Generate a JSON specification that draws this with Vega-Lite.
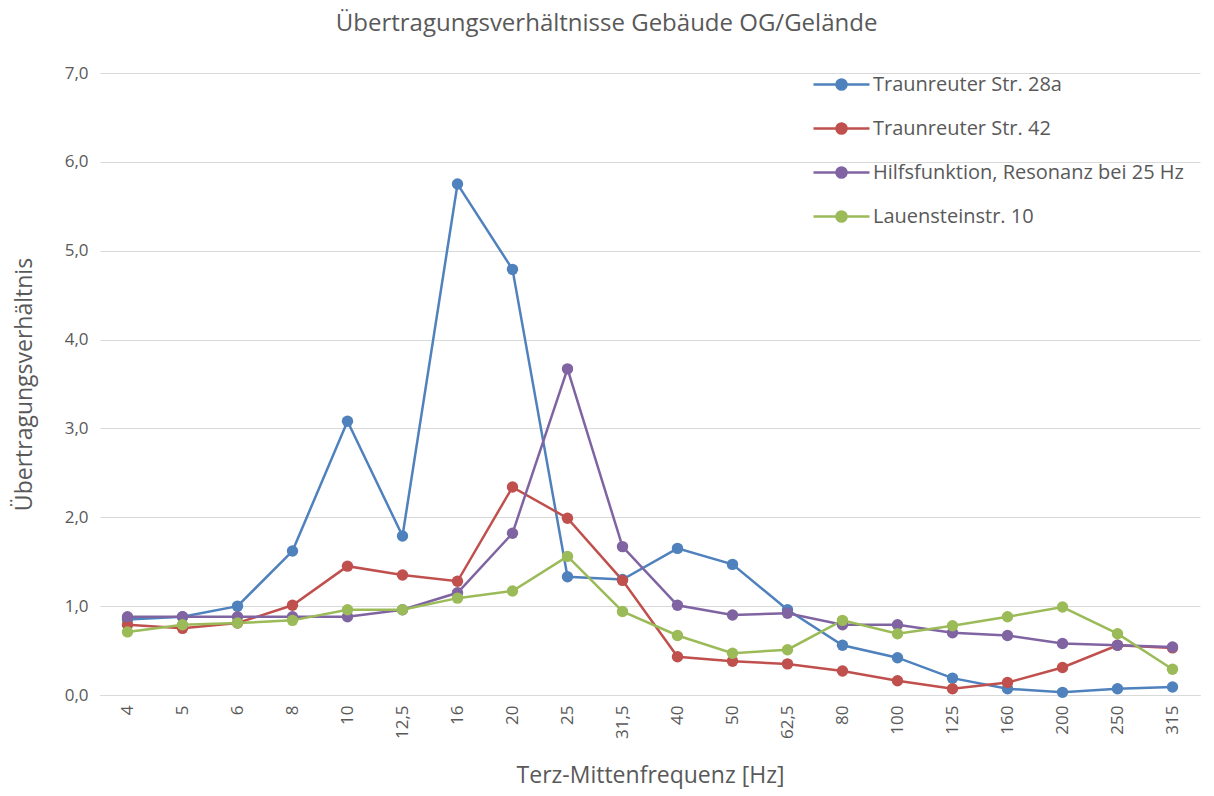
{
  "$schema": "https://vega.github.io/schema/vega-lite/v6.json",
  "width": 1100,
  "height": 622,
  "autosize": {"type": "none"},
  "padding": {"left": 100, "top": 73, "right": 14, "bottom": 101},
  "background": "white",
  "title": {
    "text": "Übertragungsverhältnisse Gebäude OG/Gelände",
    "font": "Open Sans",
    "fontSize": 24,
    "fontWeight": "normal",
    "color": "#595959",
    "anchor": "middle",
    "frame": "bounds",
    "offset": 28
  },
  "config": {
    "locale": {"number": {"decimal": ",", "thousands": ".", "grouping": [3], "currency": ["", " €"]}},
    "view": {"stroke": null},
    "font": "Open Sans"
  },
  "data": {
    "values": [
      {"f": "4", "s": "Traunreuter Str. 28a", "v": 0.85},
      {"f": "5", "s": "Traunreuter Str. 28a", "v": 0.88},
      {"f": "6", "s": "Traunreuter Str. 28a", "v": 1.0},
      {"f": "8", "s": "Traunreuter Str. 28a", "v": 1.62},
      {"f": "10", "s": "Traunreuter Str. 28a", "v": 3.08},
      {"f": "12,5", "s": "Traunreuter Str. 28a", "v": 1.79},
      {"f": "16", "s": "Traunreuter Str. 28a", "v": 5.75},
      {"f": "20", "s": "Traunreuter Str. 28a", "v": 4.79},
      {"f": "25", "s": "Traunreuter Str. 28a", "v": 1.33},
      {"f": "31,5", "s": "Traunreuter Str. 28a", "v": 1.30},
      {"f": "40", "s": "Traunreuter Str. 28a", "v": 1.65},
      {"f": "50", "s": "Traunreuter Str. 28a", "v": 1.47},
      {"f": "62,5", "s": "Traunreuter Str. 28a", "v": 0.96},
      {"f": "80", "s": "Traunreuter Str. 28a", "v": 0.56},
      {"f": "100", "s": "Traunreuter Str. 28a", "v": 0.42},
      {"f": "125", "s": "Traunreuter Str. 28a", "v": 0.19},
      {"f": "160", "s": "Traunreuter Str. 28a", "v": 0.07},
      {"f": "200", "s": "Traunreuter Str. 28a", "v": 0.03},
      {"f": "250", "s": "Traunreuter Str. 28a", "v": 0.07},
      {"f": "315", "s": "Traunreuter Str. 28a", "v": 0.09},

      {"f": "4", "s": "Traunreuter Str. 42", "v": 0.79},
      {"f": "5", "s": "Traunreuter Str. 42", "v": 0.75},
      {"f": "6", "s": "Traunreuter Str. 42", "v": 0.81},
      {"f": "8", "s": "Traunreuter Str. 42", "v": 1.01},
      {"f": "10", "s": "Traunreuter Str. 42", "v": 1.45},
      {"f": "12,5", "s": "Traunreuter Str. 42", "v": 1.35},
      {"f": "16", "s": "Traunreuter Str. 42", "v": 1.28},
      {"f": "20", "s": "Traunreuter Str. 42", "v": 2.34},
      {"f": "25", "s": "Traunreuter Str. 42", "v": 1.99},
      {"f": "31,5", "s": "Traunreuter Str. 42", "v": 1.29},
      {"f": "40", "s": "Traunreuter Str. 42", "v": 0.43},
      {"f": "50", "s": "Traunreuter Str. 42", "v": 0.38},
      {"f": "62,5", "s": "Traunreuter Str. 42", "v": 0.35},
      {"f": "80", "s": "Traunreuter Str. 42", "v": 0.27},
      {"f": "100", "s": "Traunreuter Str. 42", "v": 0.16},
      {"f": "125", "s": "Traunreuter Str. 42", "v": 0.07},
      {"f": "160", "s": "Traunreuter Str. 42", "v": 0.14},
      {"f": "200", "s": "Traunreuter Str. 42", "v": 0.31},
      {"f": "250", "s": "Traunreuter Str. 42", "v": 0.56},
      {"f": "315", "s": "Traunreuter Str. 42", "v": 0.53},

      {"f": "4", "s": "Hilfsfunktion, Resonanz bei 25 Hz", "v": 0.88},
      {"f": "5", "s": "Hilfsfunktion, Resonanz bei 25 Hz", "v": 0.88},
      {"f": "6", "s": "Hilfsfunktion, Resonanz bei 25 Hz", "v": 0.88},
      {"f": "8", "s": "Hilfsfunktion, Resonanz bei 25 Hz", "v": 0.88},
      {"f": "10", "s": "Hilfsfunktion, Resonanz bei 25 Hz", "v": 0.88},
      {"f": "12,5", "s": "Hilfsfunktion, Resonanz bei 25 Hz", "v": 0.96},
      {"f": "16", "s": "Hilfsfunktion, Resonanz bei 25 Hz", "v": 1.15},
      {"f": "20", "s": "Hilfsfunktion, Resonanz bei 25 Hz", "v": 1.82},
      {"f": "25", "s": "Hilfsfunktion, Resonanz bei 25 Hz", "v": 3.67},
      {"f": "31,5", "s": "Hilfsfunktion, Resonanz bei 25 Hz", "v": 1.67},
      {"f": "40", "s": "Hilfsfunktion, Resonanz bei 25 Hz", "v": 1.01},
      {"f": "50", "s": "Hilfsfunktion, Resonanz bei 25 Hz", "v": 0.90},
      {"f": "62,5", "s": "Hilfsfunktion, Resonanz bei 25 Hz", "v": 0.92},
      {"f": "80", "s": "Hilfsfunktion, Resonanz bei 25 Hz", "v": 0.79},
      {"f": "100", "s": "Hilfsfunktion, Resonanz bei 25 Hz", "v": 0.79},
      {"f": "125", "s": "Hilfsfunktion, Resonanz bei 25 Hz", "v": 0.70},
      {"f": "160", "s": "Hilfsfunktion, Resonanz bei 25 Hz", "v": 0.67},
      {"f": "200", "s": "Hilfsfunktion, Resonanz bei 25 Hz", "v": 0.58},
      {"f": "250", "s": "Hilfsfunktion, Resonanz bei 25 Hz", "v": 0.56},
      {"f": "315", "s": "Hilfsfunktion, Resonanz bei 25 Hz", "v": 0.54},

      {"f": "4", "s": "Lauensteinstr. 10", "v": 0.71},
      {"f": "5", "s": "Lauensteinstr. 10", "v": 0.79},
      {"f": "6", "s": "Lauensteinstr. 10", "v": 0.81},
      {"f": "8", "s": "Lauensteinstr. 10", "v": 0.84},
      {"f": "10", "s": "Lauensteinstr. 10", "v": 0.96},
      {"f": "12,5", "s": "Lauensteinstr. 10", "v": 0.96},
      {"f": "16", "s": "Lauensteinstr. 10", "v": 1.09},
      {"f": "20", "s": "Lauensteinstr. 10", "v": 1.17},
      {"f": "25", "s": "Lauensteinstr. 10", "v": 1.56},
      {"f": "31,5", "s": "Lauensteinstr. 10", "v": 0.94},
      {"f": "40", "s": "Lauensteinstr. 10", "v": 0.67},
      {"f": "50", "s": "Lauensteinstr. 10", "v": 0.47},
      {"f": "62,5", "s": "Lauensteinstr. 10", "v": 0.51},
      {"f": "80", "s": "Lauensteinstr. 10", "v": 0.84},
      {"f": "100", "s": "Lauensteinstr. 10", "v": 0.69},
      {"f": "125", "s": "Lauensteinstr. 10", "v": 0.78},
      {"f": "160", "s": "Lauensteinstr. 10", "v": 0.88},
      {"f": "200", "s": "Lauensteinstr. 10", "v": 0.99},
      {"f": "250", "s": "Lauensteinstr. 10", "v": 0.69},
      {"f": "315", "s": "Lauensteinstr. 10", "v": 0.29}
    ]
  },
  "encoding": {
    "x": {
      "field": "f",
      "type": "ordinal",
      "sort": ["4", "5", "6", "8", "10", "12,5", "16", "20", "25", "31,5", "40", "50", "62,5", "80", "100", "125", "160", "200", "250", "315"],
      "scale": {"type": "point", "padding": 0.5},
      "axis": {
        "title": "Terz-Mittenfrequenz [Hz]",
        "titleFont": "Open Sans",
        "titleFontSize": 23,
        "titleFontWeight": "normal",
        "titleColor": "#595959",
        "titlePadding": 26,
        "labelAngle": -90,
        "labelAlign": "right",
        "labelBaseline": "middle",
        "labelFontSize": 17,
        "labelColor": "#595959",
        "labelPadding": 10,
        "ticks": false,
        "domainColor": "#D9D9D9",
        "domainWidth": 1,
        "grid": false
      }
    },
    "y": {
      "field": "v",
      "type": "quantitative",
      "scale": {"domain": [0, 7], "nice": false},
      "axis": {
        "title": "Übertragungsverhältnis",
        "titleFont": "Open Sans",
        "titleFontSize": 23,
        "titleFontWeight": "normal",
        "titleColor": "#595959",
        "titlePadding": 28,
        "values": [0, 1, 2, 3, 4, 5, 6, 7],
        "format": ".1f",
        "labelFontSize": 17,
        "labelColor": "#595959",
        "labelPadding": 12,
        "ticks": false,
        "domain": false,
        "gridColor": "#D9D9D9",
        "gridWidth": 1
      }
    },
    "color": {
      "field": "s",
      "type": "nominal",
      "scale": {
        "domain": ["Traunreuter Str. 28a", "Traunreuter Str. 42", "Hilfsfunktion, Resonanz bei 25 Hz", "Lauensteinstr. 10"],
        "range": ["#4F81BD", "#C0504D", "#8064A2", "#9BBB59"]
      },
      "legend": {
        "title": null,
        "orient": "none",
        "legendX": 726,
        "legendY": -4,
        "symbolType": "M-2,0L2,0M-0.36,0A0.36,0.36 0 1,0 0.36,0A0.36,0.36 0 1,0 -0.36,0Z",
        "symbolSize": 784,
        "symbolStrokeWidth": 2.5,
        "labelFontSize": 20,
        "labelFont": "Open Sans",
        "labelColor": "#595959",
        "labelOffset": 16,
        "rowPadding": 18,
        "labelLimit": 400
      }
    }
  },
  "layer": [
    {"mark": {"type": "line", "strokeWidth": 2.5}},
    {"mark": {"type": "point", "filled": true, "size": 130, "opacity": 1}}
  ]
}
